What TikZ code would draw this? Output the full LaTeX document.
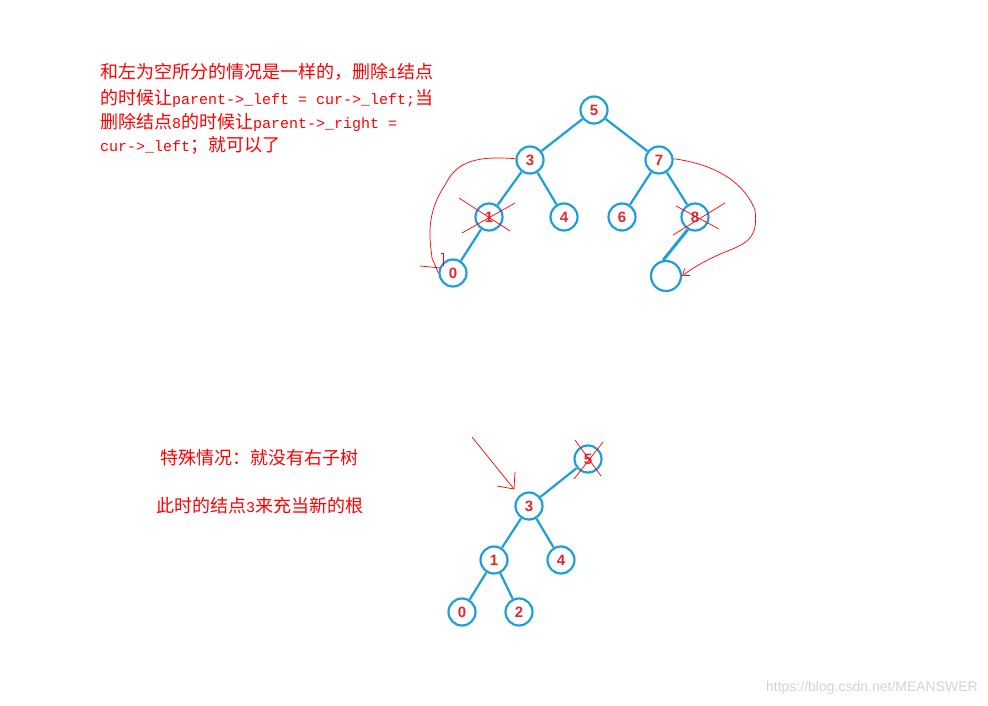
\documentclass[tikz,border=0pt]{standalone}
\usepackage{fontspec}
\usepackage{tikz}
\usetikzlibrary{arrows.meta}
\newfontfamily\cjk{Noto Sans CJK SC}
\newfontfamily\digitfont{Liberation Sans}
\setmonofont{Liberation Mono}
\definecolor{treeblue}{RGB}{30,158,218}
\definecolor{numred}{RGB}{222,40,50}
\newcommand{\code}[1]{{\fontsize{15}{15}\ttfamily #1}}

\tikzset{
    knot/.style={circle, draw=treeblue, line width=2.2pt, minimum size=27pt, inner sep=0pt,
        font=\fontsize{15}{15}\digitfont\bfseries, text=numred},
    branch/.style={treeblue, line width=2.2pt},
    note/.style={anchor=west, inner sep=0pt, text=red, font=\fontsize{18}{18}\cjk},
    scribble/.style={red, line width=0.7pt}
}

\begin{document}
\begin{tikzpicture}[x=1pt, y=-1pt]
        \useasboundingbox (0, 0) rectangle (988, 706);

        % upper tree
        \node[knot] (t5) at (594, 110) {5};
        \node[knot] (t3) at (530, 160) {3};
        \node[knot] (t7) at (659, 160) {7};
        \node[knot] (t1) at (489, 217) {1};
        \node[knot] (t4) at (564, 217) {4};
        \node[knot] (t6) at (622, 217) {6};
        \node[knot] (t8) at (695, 217) {8};
        \node[knot] (t0) at (453, 273) {0};
        \node[knot, minimum size=30pt] (te) at (666, 276) {};
        \draw[branch] (t5) -- (t3);
        \draw[branch] (t5) -- (t7);
        \draw[branch] (t3) -- (t1);
        \draw[branch] (t3) -- (t4);
        \draw[branch] (t7) -- (t6);
        \draw[branch] (t7) -- (t8);
        \draw[branch] (t1) -- (t0);
        \draw[branch, line width=3pt] (t8.240) -- (te.100);

        % crossed out nodes
        \draw[scribble] (459, 198) -- (510, 231);
        \draw[scribble] (462, 233) -- (515, 203);
        \draw[scribble] (676, 206) -- (719, 229);
        \draw[scribble] (673, 235) -- (725, 203);

        % hand drawn links
        \draw[scribble] (t3.175) .. controls (470, 155) and (455, 165) .. (445, 185)
            .. controls (425, 215) and (430, 240) .. (432, 258) -- (t0.west);
        \draw[scribble] (441, 253) -- (443, 253) -- (443, 266);
        \draw[scribble] (420, 266) -- (441, 268);
        \draw[scribble, -{Straight Barb[length=6pt, width=9pt]}] (t7.5)
            .. controls (720, 165) and (745, 185) .. (755, 210)
            .. controls (758, 235) and (750, 242) .. (730, 250)
            .. controls (710, 258) and (695, 266) .. (te.east);

        % upper text
        \node[note] (line1) at (100, 72) {和左为空所分的情况是一样的，删除\code{1}结点};
        \node[note] (line2) at (100, 98) {的时候让\code{parent->\_left = cur->\_left;}当};
        \node[note] (line3) at (100, 122) {删除结点\code{8}的时候让\code{parent->\_right =}};
        \node[note] (line4) at (100, 145) {\code{cur->\_left}；就可以了};

        % lower tree
        \node[knot] (b5) at (588, 459) {5};
        \node[knot] (b3) at (529, 506) {3};
        \node[knot] (b1) at (494, 560) {1};
        \node[knot] (b4) at (561, 560) {4};
        \node[knot] (b0) at (462, 612) {0};
        \node[knot] (b2) at (519, 612) {2};
        \draw[branch] (b5) -- (b3);
        \draw[branch] (b3) -- (b1);
        \draw[branch] (b3) -- (b4);
        \draw[branch] (b1) -- (b0);
        \draw[branch] (b1) -- (b2);
        \draw[scribble] (575, 440) -- (601, 476);
        \draw[scribble] (574, 479) -- (603, 442);

        % pointer to the new root
        \coordinate (tail) at (472, 437);
        \coordinate (tip) at (514, 489);
        \draw[scribble] (tail) -- (tip);
        \draw[scribble] (515, 472) -- (tip);
        \draw[scribble] (497, 486) -- (tip);

        % lower text
        \node[note] (case) at (160, 458) {特殊情况：就没有右子树};
        \node[note] (root) at (156, 506) {此时的结点\code{3}来充当新的根};

        \node[anchor=east, inner sep=0pt, text=gray!35, font=\fontsize{14}{14}\digitfont] (mark) at (978, 688) {https://blog.csdn.net/MEANSWER};
    \end{tikzpicture}
\end{document}
